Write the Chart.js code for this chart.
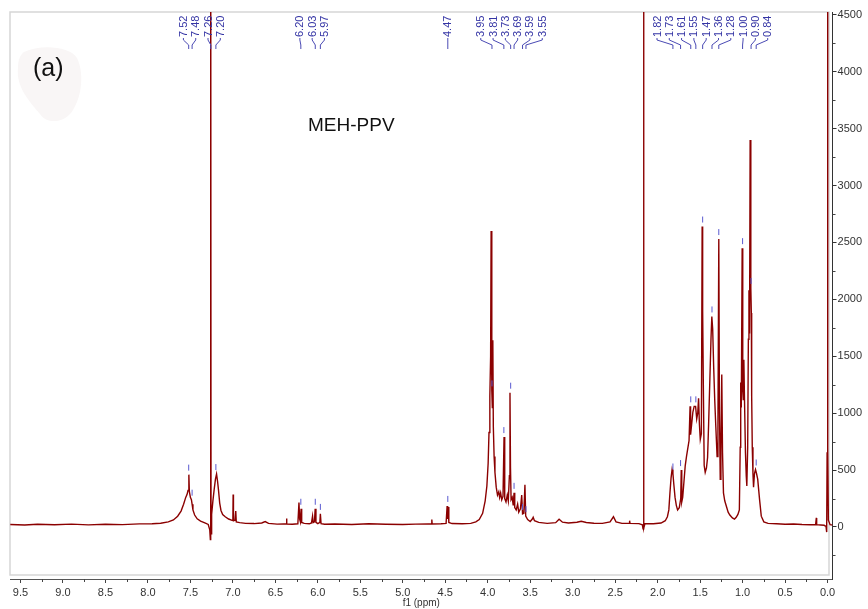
<!DOCTYPE html>
<html>
<head>
<meta charset="utf-8">
<script src="https://cdn.jsdelivr.net/npm/chart.js@4/dist/chart.umd.min.js"></script>
<style>
  body { margin: 0; background: #fff; }
  #wrap { width: 868px; height: 609px; }
</style>
</head>
<body>
<div id="wrap"><canvas id="nmrChart" width="868" height="609"></canvas></div>
<script>
// chemical shift (ppm) from left to right
const shiftPpm = [
  9.62, 9.45, 9.30, 9.10, 8.90, 8.70, 8.50, 8.30, 8.10, 7.95, 7.85, 7.76, 7.70, 7.65, 7.61, 7.58,
  7.555, 7.54, 7.528, 7.518, 7.512, 7.50, 7.488, 7.48, 7.47, 7.45, 7.42, 7.38, 7.33, 7.29,
  7.272, 7.265, 7.261, 7.257, 7.25, 7.235, 7.22, 7.205, 7.192, 7.18, 7.17, 7.155, 7.14, 7.12,
  7.09, 7.05, 7.01, 7.0, 6.997, 6.993, 6.975, 6.966, 6.96, 6.92, 6.85, 6.75, 6.66, 6.62, 6.58,
  6.48, 6.40, 6.372, 6.368, 6.364, 6.30, 6.235, 6.222, 6.214, 6.205, 6.197, 6.19, 6.16, 6.10,
  6.075, 6.062, 6.055, 6.04, 6.031, 6.022, 6.00, 5.976, 5.970, 5.962, 5.92, 5.80, 5.60, 5.40,
  5.20, 5.00, 4.85, 4.70, 4.662, 4.658, 4.654, 4.55, 4.49, 4.478, 4.472, 4.465, 4.458, 4.42,
  4.30, 4.20, 4.14, 4.10, 4.06, 4.03, 4.01, 3.995, 3.985, 3.975, 3.966, 3.960, 3.952, 3.946,
  3.940, 3.934, 3.925, 3.915, 3.90, 3.885, 3.87, 3.86, 3.848, 3.835, 3.82, 3.808, 3.80, 3.785,
  3.77, 3.758, 3.745, 3.738, 3.732, 3.725, 3.712, 3.70, 3.69, 3.682, 3.665, 3.648, 3.635, 3.615,
  3.60, 3.59, 3.575, 3.562, 3.553, 3.53, 3.50, 3.475, 3.465, 3.45, 3.40, 3.30, 3.20, 3.16, 3.12,
  3.05, 2.95, 2.90, 2.84, 2.75, 2.65, 2.56, 2.52, 2.49, 2.42, 2.335, 2.33, 2.325, 2.22, 2.18,
  2.172, 2.166, 2.161, 2.15, 2.05, 1.96, 1.91, 1.885, 1.868, 1.855, 1.842, 1.83, 1.82, 1.81,
  1.795, 1.78, 1.765, 1.745, 1.728, 1.722, 1.716, 1.705, 1.69, 1.675, 1.66, 1.645, 1.63, 1.618,
  1.612, 1.60, 1.585, 1.57, 1.553, 1.54, 1.528, 1.518, 1.508, 1.498, 1.485, 1.476, 1.47, 1.462,
  1.452, 1.44, 1.425, 1.412, 1.40, 1.385, 1.372, 1.362, 1.352, 1.34, 1.328, 1.315, 1.30, 1.29,
  1.28, 1.272, 1.263, 1.255, 1.245, 1.236, 1.225, 1.21, 1.19, 1.17, 1.15, 1.12, 1.095, 1.075,
  1.055, 1.038, 1.028, 1.022, 1.015, 1.005, 0.998, 0.992, 0.985, 0.977, 0.966, 0.957, 0.95,
  0.94, 0.932, 0.925, 0.918, 0.911, 0.903, 0.897, 0.893, 0.886, 0.878, 0.871, 0.86, 0.848,
  0.836, 0.822, 0.80, 0.78, 0.75, 0.70, 0.60, 0.50, 0.40, 0.30, 0.20, 0.14, 0.132, 0.128, 0.08,
  0.04, 0.018, 0.01, 0.005, 0.0, -0.004, -0.01, -0.03, -0.06
];

// signal intensity at each shift
const intensity = [
  22, 18, 24, 20, 25, 19, 24, 21, 27, 28, 33, 45, 62, 95, 140, 200,
  260, 285, 320, 460, 310, 260, 240, 200, 150, 105, 72, 52, 36, 22,
  -25, -110, 6000, -60, 110, 230, 330, 420, 465, 400, 330, 210, 145, 110,
  90, 70, 58, 60, 285, 55, 60, 140, 45, 38, 32, 30, 35, 48, 32,
  25, 26, 26, 75, 25, 24, 28, 215, 70, 45, 160, 40, 32, 28,
  35, 95, 38, 45, 160, 40, 30, 40, 115, 30, 24, 26, 22, 28,
  24, 22, 25, 26, 26, 65, 26, 28, 32, 185, 70, 175, 40, 30,
  28, 32, 45, 65, 120, 230, 360, 560, 830, 1150, 1500, 2600, 1200, 1050,
  1640, 880, 620, 480, 350, 280, 310, 260, 300, 240, 270, 790, 250, 220,
  280, 230, 450, 1180, 520, 240, 260, 190, 300, 170, 150, 200, 130, 160,
  280, 115, 120, 370, 95, 65, 48, 70, 85, 55, 40, 32, 38, 68, 42,
  35, 42, 50, 40, 33, 32, 45, 90, 45, 32, 32, 55, 32, 30, 20,
  -15, 6000, -10, 28, 28, 35, 55, 90, 150, 300, 430, 505, 470, 380,
  260, 190, 150, 170, 250, 500, 220, 260, 400, 540, 620, 690, 760, 1060,
  810, 900, 1010, 1060, 1060, 950, 1000, 1130, 900, 770, 820, 2640, 1900, 1250,
  540, 480, 520, 610, 900, 1300, 1650, 1850, 1740, 1400, 1120, 880, 620, 870,
  2530, 1000, 420, 650, 1340, 650, 300, 230, 180, 130, 105, 80, 70, 85,
  110, 150, 700, 1270, 1050, 2450, 1200, 1120, 1470, 1100, 650, 450, 360,
  700, 1650, 2080, 1700, 3400, 2100, 1880, 1150, 700, 470, 350, 470, 505,
  470, 420, 240, 95, 45, 32, 28, 24, 26, 22, 20, 22, 80, 20, 18,
  15, 5, -45, 650, 6000, 700, 60, 20, 18
];

// picked peaks printed along the top
const peakLabels = [7.52, 7.48, 7.26, 7.20, 6.20, 6.03, 5.97, 4.47, 3.95, 3.81, 3.73, 3.69,
  3.59, 3.55, 1.82, 1.73, 1.61, 1.55, 1.47, 1.36, 1.28, 1.00, 0.90, 0.84];

// labelled ticks and the unlabelled minor ticks between them
const xTicks = [0, 0.5, 1.0, 1.5, 2.0, 2.5, 3.0, 3.5, 4.0, 4.5, 5.0, 5.5, 6.0, 6.5, 7.0, 7.5,
  8.0, 8.5, 9.0, 9.5];
const xMinorTicks = [0.25, 0.75, 1.25, 1.75, 2.25, 2.75, 3.25, 3.75, 4.25, 4.75, 5.25, 5.75,
  6.25, 6.75, 7.25, 7.75, 8.25, 8.75, 9.25];
const yTicks = [0, 500, 1000, 1500, 2000, 2500, 3000, 3500, 4000, 4500];
const yMinorTicks = [-250, 250, 750, 1250, 1750, 2250, 2750, 3250, 3750, 4250];

const fontFam = 'Arial, "Liberation Sans", Helvetica, sans-serif';

const decorations = {
  id: 'decorations',
  beforeDraw(chart) {
    const ctx = chart.ctx;
    ctx.save();
    ctx.fillStyle = '#fff';
    ctx.fillRect(0, 0, chart.width, chart.height);
    // light frame round the plot
    ctx.strokeStyle = '#d6d6d6';
    ctx.lineWidth = 1.5;
    ctx.strokeRect(10, 12, 819, 563);
    // faint smudge behind "(a)"
    ctx.fillStyle = '#f9f6f6';
    ctx.beginPath();
    ctx.moveTo(24, 52);
    ctx.bezierCurveTo(40, 44, 70, 46, 77, 58);
    ctx.bezierCurveTo(84, 72, 82, 95, 74, 108);
    ctx.bezierCurveTo(68, 122, 48, 126, 40, 114);
    ctx.bezierCurveTo(28, 100, 16, 86, 18, 68);
    ctx.bezierCurveTo(18, 60, 20, 55, 24, 52);
    ctx.fill();
    ctx.restore();
  },
  afterDraw(chart) {
    const ctx = chart.ctx;
    const xs = chart.scales.x, ys = chart.scales.y;
    const area = chart.chartArea;
    ctx.save();

    // minor ticks
    ctx.strokeStyle = '#444';
    ctx.lineWidth = 1;
    ctx.beginPath();
    xMinorTicks.forEach(v => {
      const px = Math.round(xs.getPixelForValue(v)) + 0.5;
      ctx.moveTo(px, area.bottom);
      ctx.lineTo(px, area.bottom + 3);
    });
    yMinorTicks.forEach(v => {
      const py = Math.round(ys.getPixelForValue(v)) + 0.5;
      ctx.moveTo(area.right, py);
      ctx.lineTo(area.right + 3, py);
    });
    ctx.stroke();

    ctx.fillStyle = '#111';
    ctx.textBaseline = 'middle';
    ctx.font = '25px ' + fontFam;
    ctx.fillText('(a)', 33, 69);
    ctx.font = '19px ' + fontFam;
    ctx.fillText('MEH-PPV', 308, 126);

    // spread peak labels so they do not overlap
    const gap = 12.3;
    let groups = peakLabels.map(p => ({ peaks: [xs.getPixelForValue(p)] }));
    const place = g => {
      const mid = g.peaks.reduce((a, b) => a + b, 0) / g.peaks.length;
      g.start = mid - (g.peaks.length - 1) * gap / 2;
      g.end = g.start + (g.peaks.length - 1) * gap;
    };
    groups.forEach(place);
    let merged = true;
    while (merged) {
      merged = false;
      for (let i = 0; i < groups.length - 1; i++) {
        if (groups[i + 1].start - groups[i].end < gap) {
          groups[i].peaks = groups[i].peaks.concat(groups[i + 1].peaks);
          groups.splice(i + 1, 1);
          place(groups[i]);
          merged = true;
          break;
        }
      }
    }
    const labelX = [];
    groups.forEach(g => g.peaks.forEach((p, k) => labelX.push(g.start + k * gap)));

    ctx.strokeStyle = '#4a4ab4';
    ctx.fillStyle = '#3535a5';
    ctx.font = '11px ' + fontFam;
    peakLabels.forEach((p, i) => {
      const px = xs.getPixelForValue(p);
      const lx = labelX[i];
      ctx.beginPath();
      ctx.moveTo(lx, 38);
      ctx.lineTo(lx, 40);
      ctx.lineTo(px, 45);
      ctx.lineTo(px, 49);
      ctx.stroke();
      ctx.save();
      ctx.translate(lx + 0.5, 37);
      ctx.rotate(-Math.PI / 2);
      ctx.textAlign = 'left';
      ctx.fillText(p.toFixed(2), 0, 0);
      ctx.restore();

      // small tick above the picked peak
      let top = -Infinity;
      shiftPpm.forEach((s, j) => { if (Math.abs(s - p) <= 0.009) top = Math.max(top, intensity[j]); });
      if (top > -Infinity && top < ys.max) {
        const py = ys.getPixelForValue(top);
        ctx.strokeStyle = '#5a5ad0';
        ctx.beginPath();
        ctx.moveTo(px, py - 10);
        ctx.lineTo(px, py - 4);
        ctx.stroke();
        ctx.strokeStyle = '#4a4ab4';
      }
    });
    ctx.restore();
  }
};

new Chart(document.getElementById('nmrChart'), {
  type: 'line',
  data: {
    datasets: [{
      data: shiftPpm.map((s, i) => ({ x: s, y: intensity[i] })),
      borderColor: '#8b0000',
      borderWidth: 1.4,
      pointRadius: 0,
      tension: 0,
      fill: false
    }]
  },
  options: {
    responsive: false,
    animation: false,
    layout: { padding: { left: 10, top: 12, right: 5, bottom: 0 } },
    plugins: { legend: { display: false }, tooltip: { enabled: false } },
    scales: {
      x: {
        type: 'linear',
        reverse: true,
        min: -0.0588,
        max: 9.6235,
        afterBuildTicks: s => { s.ticks = xTicks.map(v => ({ value: v })); },
        afterFit: s => { s.height = 30; },
        grid: { drawOnChartArea: false, tickLength: 4, tickColor: '#444' },
        border: { color: '#555' },
        ticks: {
          autoSkip: false,
          maxRotation: 0,
          padding: 3,
          color: '#333',
          font: { family: fontFam, size: 11 },
          callback: v => v.toFixed(1)
        },
        title: {
          display: true,
          text: 'f1 (ppm)',
          color: '#333',
          font: { family: fontFam, size: 10 },
          padding: { top: 0, bottom: 0 }
        }
      },
      y: {
        type: 'linear',
        position: 'right',
        min: -457,
        max: 4525,
        afterBuildTicks: s => { s.ticks = yTicks.map(v => ({ value: v })); },
        grid: { drawOnChartArea: false, tickLength: 4, tickColor: '#333' },
        border: { color: '#333' },
        ticks: {
          autoSkip: false,
          padding: 1,
          color: '#333',
          font: { family: fontFam, size: 11 },
          callback: v => String(v)
        }
      }
    }
  },
  plugins: [decorations]
});
</script>
</body>
</html>
